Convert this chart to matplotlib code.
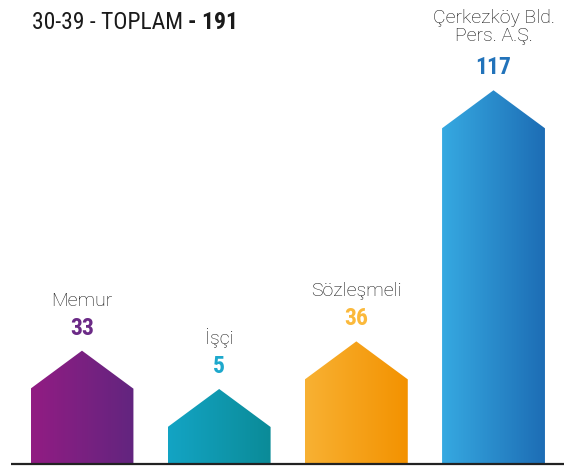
import numpy as np
import matplotlib
matplotlib.use('Agg')
import matplotlib.pyplot as plt
from matplotlib.patches import Polygon
from matplotlib.colors import LinearSegmentedColormap

# data
categories = ['Memur', 'İşçi', 'Sözleşmeli', 'Çerkezköy Bld.\nPers. A.Ş.']
values = [33, 5, 36, 117]
left_colors = ['#921C83', '#13A4C4', '#F8B133', '#36A9E1']
right_colors = ['#62257F', '#0B8B98', '#F39200', '#1D6DB5']
value_colors = ['#6B2A86', '#1DA8CC', '#FBB93B', '#2273BA']
title_group = '30-39'
total = sum(values)

narrow = ['Roboto Condensed', 'Archivo Narrow', 'Barlow Semi Condensed', 'DejaVu Sans']
light = ['Roboto', 'Liberation Sans', 'DejaVu Sans']

W, H = 564, 466
fig = plt.figure(figsize=(W / 100, H / 100), dpi=100)
ax = fig.add_axes([0, 0, 1, 1])
ax.axis('off')

# scale: px per unit, baseline value
k = 3.1
base = 8.7
base_px = 464  # from top
xl = (-82 / 137.2, 3 + (W - 493.5) / 137.2)
ax.set_xlim(*xl)
ax.set_ylim(base - (H - base_px) / k, base + base_px / k)

bar_w = 0.75
roof = 38 / k
min_body = 37 / k

for i, v in enumerate(values):
    top = max(v, base + min_body)
    x0, x1 = i - bar_w / 2, i + bar_w / 2
    pts = [(x0, base), (x0, top), (i, top + roof), (x1, top), (x1, base)]
    poly = Polygon(pts, closed=True, facecolor='none', edgecolor='none')
    ax.add_patch(poly)
    cmap = LinearSegmentedColormap.from_list('g', [left_colors[i], right_colors[i]])
    grad = np.linspace(0, 1, 256).reshape(1, -1)
    im = ax.imshow(grad, cmap=cmap, aspect='auto', extent=[x0, x1, base, top + roof],
                   origin='lower', interpolation='bilinear')
    im.set_clip_path(poly)

    peak = top + roof
    ax.annotate(str(v), (i, peak), xytext=(0, 16), textcoords='offset pixels',
                ha='center', va='baseline', fontsize=17, fontweight='bold',
                family=narrow, color=value_colors[i])
    nl = categories[i].count('\n')
    ax.annotate(categories[i], (i, peak), xytext=(0, 45 + 4 * nl),
                textcoords='offset pixels', ha='center', va='baseline',
                fontsize=14, family=light, fontweight='light', color='#111111',
                linespacing=1.0)

# baseline
ax.plot([xl[0] + 11 / 137.2, xl[1]], [base, base],
        color='#222222', lw=1.6, solid_capstyle='butt')

# title
t1 = fig.text(32 / W, 1 - 29 / H, f'{title_group} - TOPLAM ', fontsize=17,
              family=narrow, color='#1a1a1a', va='baseline', ha='left')
fig.canvas.draw()
bb = t1.get_window_extent()
fig.text(bb.x1 / W, 1 - 29 / H, f'- {total}', fontsize=17, family=narrow,
         fontweight='bold', color='#1a1a1a', va='baseline', ha='left')

fig.savefig('out.png', dpi=100)
